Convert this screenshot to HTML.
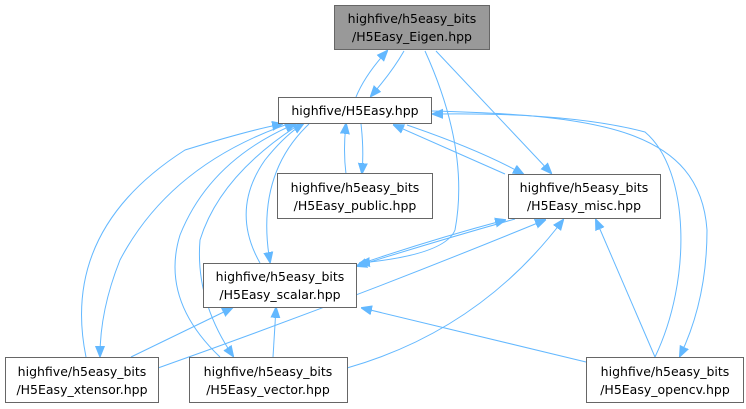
<!DOCTYPE html>
<html><head><meta charset="utf-8"><style>
html,body{margin:0;padding:0;background:#fff;}
svg{display:block;}
text{font-family:"DejaVu Sans","Liberation Sans",sans-serif;font-size:12.5px;fill:#000;}
.e{fill:none;stroke:#63b8ff;stroke-width:1;}
.n{fill:#fff;stroke:#666;stroke-width:1;}
</style></head><body>
<svg width="746" height="409" viewBox="0 0 746 409" xmlns="http://www.w3.org/2000/svg">
<defs>
<marker id="a" viewBox="0 0 10 10" refX="9" refY="5" markerWidth="11" markerHeight="11" markerUnits="userSpaceOnUse" orient="auto">
<path d="M0,1 L10,5 L0,9 z" fill="#63b8ff" stroke="#63b8ff"/>
</marker>
</defs>
<g class="e">
<path d="M356,97 Q365,75 387,51" marker-end="url(#a)"/>
<path d="M404,51 Q392,72 371,96" marker-end="url(#a)"/>
<path d="M436,51 L551,173" marker-end="url(#a)"/>
<path d="M425,51 Q470,150 455,230 Q445,255 360,263" marker-end="url(#a)"/>
<path d="M346,174 Q343,150 346,124" marker-end="url(#a)"/>
<path d="M361,124 Q364,150 362,173" marker-end="url(#a)"/>
<path d="M505,174 L394,125" marker-end="url(#a)"/>
<path d="M407,125 Q480,150 523,174" marker-end="url(#a)"/>
<path d="M655,357 C692,280 690,170 645,132 Q570,112 433,114" marker-end="url(#a)"/>
<path d="M432,111 C600,115 700,130 707,230 Q707,300 680,356" marker-end="url(#a)"/>
<path d="M86,357 Q60,230 185,150 Q250,130 282,124" marker-end="url(#a)"/>
<path d="M288,124 Q170,165 120,260 Q100,310 100,356" marker-end="url(#a)"/>
<path d="M220,357 Q160,300 180,235 Q210,160 295,124" marker-end="url(#a)"/>
<path d="M300,124 Q220,175 200,240 Q195,300 233,356" marker-end="url(#a)"/>
<path d="M260,263 Q230,210 265,160 Q285,135 303,124" marker-end="url(#a)"/>
<path d="M309,124 Q255,175 270,262" marker-end="url(#a)"/>
<path d="M360,264 Q430,240 505,220" marker-end="url(#a)"/>
<path d="M515,219 Q440,240 357,266" marker-end="url(#a)"/>
<path d="M158,368 Q350,300 545,220" marker-end="url(#a)"/>
<path d="M347,368 Q480,330 563,220" marker-end="url(#a)"/>
<path d="M655,357 L596,220" marker-end="url(#a)"/>
<path d="M131,357 L232,308" marker-end="url(#a)"/>
<path d="M273,357 L276,308" marker-end="url(#a)"/>
<path d="M586,362 L362,308" marker-end="url(#a)"/>
</g>
<rect x="334.5" y="5.5" width="155" height="44" fill="#999" stroke="#666"/>
<text x="412" y="23" text-anchor="middle">highfive/h5easy_bits</text>
<text x="412" y="41" text-anchor="middle">/H5Easy_Eigen.hpp</text>

<rect class="n" x="278.5" y="97.5" width="153" height="26"/>
<text x="355" y="115" text-anchor="middle">highfive/H5Easy.hpp</text>

<rect class="n" x="277.5" y="173.5" width="155" height="45"/>
<text x="355" y="192" text-anchor="middle">highfive/h5easy_bits</text>
<text x="355" y="210" text-anchor="middle">/H5Easy_public.hpp</text>

<rect class="n" x="508.5" y="174.5" width="152" height="44"/>
<text x="584" y="192" text-anchor="middle">highfive/h5easy_bits</text>
<text x="584" y="210" text-anchor="middle">/H5Easy_misc.hpp</text>

<rect class="n" x="203.5" y="263.5" width="153" height="44"/>
<text x="280" y="281" text-anchor="middle">highfive/h5easy_bits</text>
<text x="280" y="299" text-anchor="middle">/H5Easy_scalar.hpp</text>

<rect class="n" x="5.5" y="357.5" width="153" height="45"/>
<text x="82" y="376" text-anchor="middle">highfive/h5easy_bits</text>
<text x="82" y="394" text-anchor="middle">/H5Easy_xtensor.hpp</text>

<rect class="n" x="189.5" y="357.5" width="158" height="45"/>
<text x="268" y="376" text-anchor="middle">highfive/h5easy_bits</text>
<text x="268" y="394" text-anchor="middle">/H5Easy_vector.hpp</text>

<rect class="n" x="586.5" y="357.5" width="157" height="45"/>
<text x="665" y="376" text-anchor="middle">highfive/h5easy_bits</text>
<text x="665" y="394" text-anchor="middle">/H5Easy_opencv.hpp</text>
</svg>
</body></html>
